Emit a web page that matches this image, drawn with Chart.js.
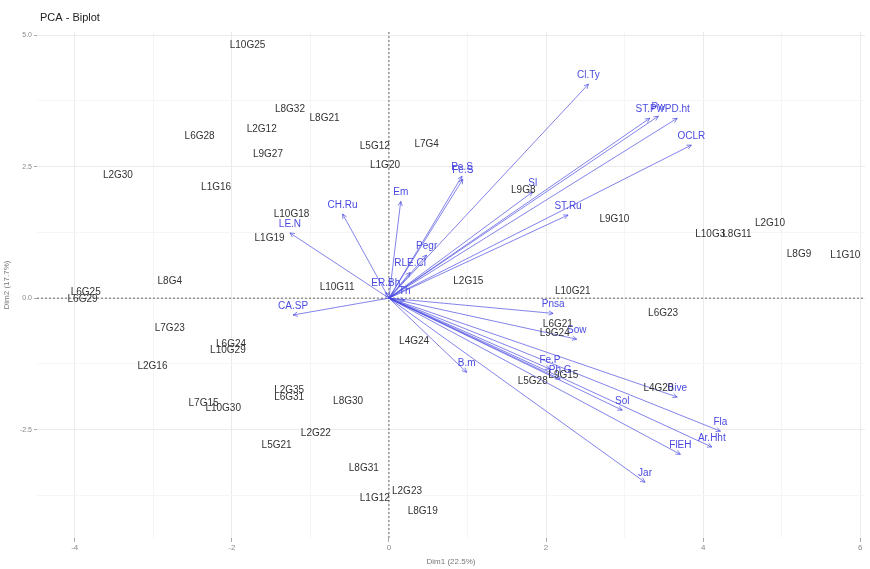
<!DOCTYPE html>
<html>
<head>
<meta charset="utf-8">
<script src="https://cdn.jsdelivr.net/npm/chart.js@4.4.1/dist/chart.umd.min.js"></script>
<style>
  html, body { margin: 0; padding: 0; background: #fff; }
  #wrap { width: 870px; height: 569px; }
</style>
</head>
<body>
<div id="wrap"><canvas id="biplot" width="870" height="569"></canvas></div>
<script>
// individuals (row labels) and their coordinates on Dim1 / Dim2
const indNames = ['L10G25', 'L8G32', 'L8G21', 'L2G12', 'L6G28', 'L9G27', 'L5G12', 'L7G4', 'L1G20', 'L2G30',
    'L1G16', 'L9G8', 'L9G10', 'L10G18', 'L1G19', 'L2G10', 'L10G3', 'L8G11', 'L8G9', 'L1G10',
    'L8G4', 'L10G11', 'L2G15', 'L10G21', 'L6G25', 'L6G29', 'L7G23', 'L6G23', 'L6G21', 'L9G24',
    'L4G24', 'L6G24', 'L10G29', 'L2G16', 'L5G28', 'L9G15', 'L4G20', 'L2G35', 'L6G31', 'L7G15',
    'L10G30', 'L8G30', 'L2G22', 'L5G21', 'L8G31', 'L2G23', 'L1G12', 'L8G19'];
const indX = [-1.80, -1.26, -0.82, -1.62, -2.41, -1.54, -0.18, 0.48, -0.05, -3.45,
    -2.20, 1.71, 2.87, -1.24, -1.52, 4.85, 4.09, 4.43, 5.22, 5.81,
    -2.79, -0.66, 1.01, 2.34, -3.86, -3.90, -2.79, 3.49, 2.15, 2.11,
    0.32, -2.01, -2.05, -3.01, 1.83, 2.22, 3.43, -1.27, -1.27, -2.36,
    -2.11, -0.52, -0.93, -1.43, -0.32, 0.23, -0.18, 0.43];
const indY = [4.81, 3.59, 3.42, 3.21, 3.08, 2.74, 2.89, 2.93, 2.53, 2.34,
    2.11, 2.05, 1.50, 1.60, 1.14, 1.43, 1.22, 1.22, 0.84, 0.82,
    0.32, 0.21, 0.32, 0.13, 0.11, -0.02, -0.57, -0.29, -0.49, -0.67,
    -0.82, -0.87, -0.99, -1.29, -1.58, -1.46, -1.71, -1.75, -1.88, -2.00,
    -2.09, -1.96, -2.57, -2.79, -3.23, -3.67, -3.80, -4.05];

// variables (arrows from the origin)
const varNames = ['Cl.Ty', 'ST.Pw', 'Pw', 'PD.ht', 'OCLR', 'ST.Ru', 'Sl', 'Pe.S', 'Fe.S', 'Em',
    'CH.Ru', 'LE.N', 'ER.Bh', 'Pegr', 'RLE.Cl', 'CA.SP', 'Th', 'Pnsa', 'Sow', 'Fe.P',
    'Ph.G', 'B.m', 'Bive', 'Sol', 'Fla', 'Ar.Hht', 'FlEH', 'Jar'];
const varX = [2.54, 3.32, 3.43, 3.67, 3.85, 2.28, 1.83, 0.93, 0.94, 0.15,
    -0.59, -1.26, -0.04, 0.48, 0.27, -1.22, 0.20, 2.09, 2.39, 2.05,
    2.18, 0.99, 3.67, 2.97, 4.22, 4.11, 3.71, 3.26];
const varY = [4.07, 3.42, 3.46, 3.42, 2.91, 1.58, 2.02, 2.32, 2.26, 1.84,
    1.60, 1.24, 0.11, 0.82, 0.49, -0.32, -0.04, -0.29, -0.78, -1.35,
    -1.54, -1.41, -1.88, -2.13, -2.53, -2.83, -2.97, -3.50];

const xLabel = 'Dim1 (22.5%)';
const yLabel = 'Dim2 (17.7%)';

const FONT = '"Liberation Sans", Arial, sans-serif';
const ARROW = 'rgba(70, 70, 225, 0.75)';
const VARTXT = '#4a4ae0';

const isMajor = (v, major) => Math.abs(v / major - Math.round(v / major)) < 1e-6;

const biplotPlugin = {
    id: 'biplot',
    beforeDatasetsDraw(chart) {
        const { ctx, chartArea: a, scales: { x, y } } = chart;
        const x0 = x.getPixelForValue(0), y0 = y.getPixelForValue(0);
        ctx.save();
        ctx.strokeStyle = '#444';
        ctx.lineWidth = 0.8;
        ctx.setLineDash([2, 2]);
        ctx.beginPath();
        ctx.moveTo(x0, a.top); ctx.lineTo(x0, a.bottom);
        ctx.moveTo(a.left, y0); ctx.lineTo(a.right, y0);
        ctx.stroke();
        ctx.restore();
    },
    afterDatasetsDraw(chart) {
        const { ctx, scales: { x, y } } = chart;
        const x0 = x.getPixelForValue(0), y0 = y.getPixelForValue(0);
        ctx.save();
        // arrow heads
        ctx.strokeStyle = ARROW;
        ctx.lineWidth = 0.9;
        varNames.forEach((n, i) => {
            const px = x.getPixelForValue(varX[i]), py = y.getPixelForValue(varY[i]);
            const ang = Math.atan2(py - y0, px - x0);
            const len = 5;
            ctx.beginPath();
            ctx.moveTo(px - len * Math.cos(ang - 0.45), py - len * Math.sin(ang - 0.45));
            ctx.lineTo(px, py);
            ctx.lineTo(px - len * Math.cos(ang + 0.45), py - len * Math.sin(ang + 0.45));
            ctx.stroke();
        });
        // variable labels
        ctx.font = '10px ' + FONT;
        ctx.fillStyle = VARTXT;
        ctx.textAlign = 'center';
        ctx.textBaseline = 'middle';
        varNames.forEach((n, i) => {
            ctx.fillText(n, x.getPixelForValue(varX[i]), y.getPixelForValue(varY[i]) - 9);
        });
        // individual labels
        ctx.fillStyle = '#333';
        indNames.forEach((n, i) => {
            ctx.fillText(n, x.getPixelForValue(indX[i]), y.getPixelForValue(indY[i]));
        });
        ctx.restore();
    },
    afterDraw(chart) {
        const ctx = chart.ctx;
        ctx.save();
        ctx.font = '11px ' + FONT;
        ctx.fillStyle = '#222';
        ctx.textAlign = 'left';
        ctx.textBaseline = 'middle';
        ctx.fillText('PCA - Biplot', 40, 18);
        ctx.restore();
    }
};

const arrowSets = varNames.map((n, i) => ({
    label: n,
    data: [{ x: 0, y: 0 }, { x: varX[i], y: varY[i] }],
    showLine: true,
    borderColor: ARROW,
    borderWidth: 0.9,
    pointRadius: 0,
    fill: false
}));

const indSet = {
    label: 'individuals',
    data: indNames.map((n, i) => ({ x: indX[i], y: indY[i] })),
    pointRadius: 0,
    showLine: false
};

const gridColor = (major) => (c) => (c.tick && isMajor(c.tick.value, major) ? '#ebebeb' : '#f5f5f5');
const tickColor = (major) => (c) => (c.tick && isMajor(c.tick.value, major) ? '#aaa' : 'rgba(0,0,0,0)');

new Chart(document.getElementById('biplot'), {
    type: 'scatter',
    data: { datasets: [indSet, ...arrowSets] },
    plugins: [biplotPlugin],
    options: {
        responsive: false,
        animation: false,
        layout: { padding: { top: 32, right: 5, left: 0, bottom: 0 } },
        plugins: {
            legend: { display: false },
            tooltip: { enabled: false }
        },
        scales: {
            x: {
                type: 'linear',
                min: -4.48,
                max: 6.06,
                afterFit: (s) => { s.height = 31; },
                border: { display: false },
                grid: { color: gridColor(2), lineWidth: 1, tickLength: 4, tickColor: tickColor(2), drawTicks: true },
                ticks: {
                    stepSize: 1,
                    includeBounds: false,
                    color: '#888',
                    font: { size: 8, family: FONT },
                    padding: 1,
                    maxRotation: 0,
                    autoSkip: false,
                    callback: (v) => (isMajor(v, 2) ? String(v) : '')
                },
                title: { display: true, text: xLabel, color: '#777', font: { size: 8, family: FONT }, padding: { top: 0, bottom: 2 } }
            },
            y: {
                type: 'linear',
                min: -4.56,
                max: 5.06,
                afterFit: (s) => { s.width = 37; },
                border: { display: false },
                grid: { color: gridColor(2.5), lineWidth: 1, tickLength: 3, tickColor: tickColor(2.5) },
                ticks: {
                    stepSize: 1.25,
                    includeBounds: false,
                    color: '#888',
                    font: { size: 7, family: FONT },
                    padding: 2,
                    autoSkip: false,
                    callback: (v) => (isMajor(v, 2.5) ? v.toFixed(1) : '')
                },
                title: { display: true, text: yLabel, color: '#777', font: { size: 8, family: FONT }, padding: { top: 2, bottom: 0 } }
            }
        }
    }
});
</script>
</body>
</html>
